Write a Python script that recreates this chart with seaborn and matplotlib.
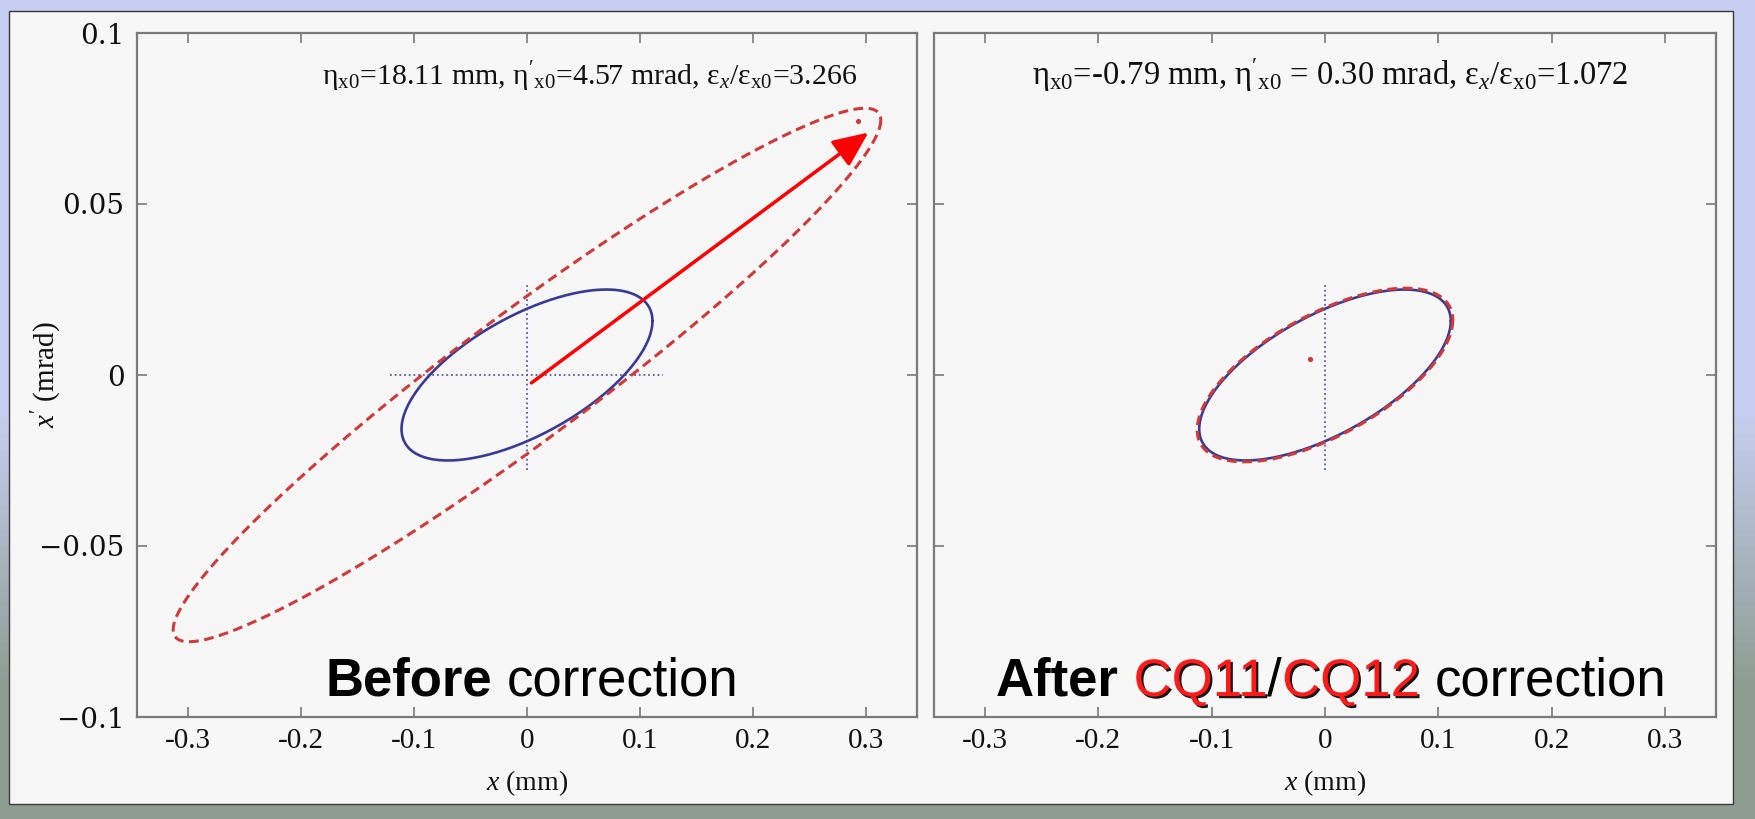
import matplotlib
matplotlib.use("Agg")
import numpy as np
import pandas as pd
import seaborn as sns
import matplotlib.pyplot as plt
from matplotlib.patches import Rectangle
import matplotlib.patheffects as pe

# ------------------------------------------------------------------ data
x_ticks = [-0.3, -0.2, -0.1, 0.0, 0.1, 0.2, 0.3]
x_tick_labels = ["-0.3", "-0.2", "-0.1", "0", "0.1", "0.2", "0.3"]
y_ticks = [-0.1, -0.05, 0.0, 0.05, 0.1]
y_tick_labels = ["\u22120.1", "\u22120.05", "0", "0.05", "0.1"]

# Twiss parameters of the phase-space ellipses (left = before, right = after)
design_eps = [0.00215, 0.00215]      # mm mrad
design_beta = [5.73, 5.73]
design_alpha = [-0.815, -0.815]
meas_eps = [0.00723, 0.00222]
meas_beta = [13.55, 5.73]
meas_alpha = [-3.225, -0.815]

# beam centroid (red dot)
centroid_x = [0.293, -0.013]
centroid_xp = [0.0743, 0.0047]

# dotted reference cross (x-extent, x'-extent); right panel has only vertical
cross_h_x = [[-0.121, 0.120], None]
cross_v_xp = [[-0.0277, 0.027], [-0.0277, 0.0265]]

# arrow in left panel
arrow_start = (0.004, -0.0023)
arrow_end = (0.302, 0.0709)

header_texts = [
    r"$\mathrm{\eta_{x0}}$=18.11 mm, $\mathrm{\eta'_{x0}}$=4.57 mrad, "
    r"$\mathrm{\varepsilon_{\mathit{x}}/\varepsilon_{x0}}$=3.266",
    r"$\mathrm{\eta_{x0}}$=-0.79 mm, $\mathrm{\eta'_{x0}}$ = 0.30 mrad, "
    r"$\mathrm{\varepsilon_{\mathit{x}}/\varepsilon_{x0}}$=1.072",
]
caption_pieces = [
    [("Before", "bold", "black", False, 0), ("correction", "normal", "black", False, 1)],
    [("After", "bold", "black", False, 0), ("CQ11", "normal", "#ff1a1a", True, 1),
     ("/", "normal", "black", False, 0), ("CQ12", "normal", "#ff1a1a", True, 0),
     ("correction", "normal", "black", False, 1)],
]

# ------------------------------------------------------------------ style
sns.set_style("ticks")
plt.rcParams["font.family"] = ["Liberation Serif", "DejaVu Serif"]
plt.rcParams["mathtext.fontset"] = "custom"
plt.rcParams["mathtext.rm"] = "Liberation Serif"
plt.rcParams["mathtext.it"] = "Liberation Serif:italic"
plt.rcParams["mathtext.bf"] = "Liberation Serif:bold"

W, H = 1755, 819
fig = plt.figure(figsize=(W / 100, H / 100), dpi=100)
fig.patch.set_facecolor("#c6cef2")

# slide-like background
bg = fig.add_axes([0, 0, 1, 1], zorder=-10)
bg.set_axis_off()
bg.set_xlim(0, 1)
bg.set_ylim(0, 1)
grad = np.array([[[0.78, 0.81, 0.95]], [[0.78, 0.81, 0.95]], [[0.56, 0.62, 0.58]]])
bg.imshow(grad, extent=[0, 1, 0, 1], aspect="auto", interpolation="bilinear")
bg.add_patch(Rectangle((9 / W, 1 - 804 / H), (1733 - 9) / W, (804 - 11) / H,
                       facecolor="#f7f7f7", edgecolor="#3a3a3a", lw=1.0))

PANEL = "#f7f7f7"
BLUE = "#3a3a96"
RED = "#d03a3a"
DOT = "#5a5aa8"
GRAY = "#7a7a7a"

axes_pos = [[137 / W, 1 - 717 / H, 780 / W, 684 / H],
            [934 / W, 1 - 717 / H, 782 / W, 684 / H]]

t = np.linspace(0, 2 * np.pi, 400)


def ellipse(eps, beta, alpha):
    x = np.sqrt(eps * beta) * np.cos(t)
    xp = -np.sqrt(eps / beta) * (alpha * np.cos(t) + np.sin(t))
    return pd.DataFrame({"x": x, "xp": xp})


axes = []
for i in range(2):
    ax = fig.add_axes(axes_pos[i])
    ax.set_facecolor(PANEL)
    axes.append(ax)

    # dotted cross
    if cross_h_x[i] is not None:
        sns.lineplot(x=cross_h_x[i], y=[0, 0], ax=ax, color=DOT, lw=1.3, sort=False)
        ax.lines[-1].set_dashes((1.0, 1.6))
    sns.lineplot(x=[0, 0], y=cross_v_xp[i], ax=ax, color=DOT, lw=1.3, sort=False,
                 estimator=None)
    ax.lines[-1].set_dashes((1.0, 1.6))

    # design (blue) ellipse
    d = ellipse(design_eps[i], design_beta[i], design_alpha[i])
    sns.lineplot(data=d, x="x", y="xp", ax=ax, color=BLUE, lw=1.9, sort=False,
                 estimator=None)
    # measured (red dashed) ellipse
    m = ellipse(meas_eps[i], meas_beta[i], meas_alpha[i])
    sns.lineplot(data=m, x="x", y="xp", ax=ax, color=RED, lw=2.2, sort=False,
                 estimator=None)
    ax.lines[-1].set_dashes((3.2, 1.8))

    # centroid
    sns.scatterplot(x=[centroid_x[i]], y=[centroid_xp[i]], ax=ax, color=RED,
                    s=14, linewidth=0, zorder=5)

    ax.set_xlim(-0.345, 0.345)
    ax.set_ylim(-0.1, 0.1)
    ax.set_xticks(x_ticks, labels=x_tick_labels, fontsize=21,
                  fontfamily="Liberation Serif")
    if i == 0:
        ax.set_yticks(y_ticks, labels=y_tick_labels, fontsize=20,
                      fontfamily="DejaVu Serif")
    else:
        ax.set_yticks(y_ticks, labels=[""] * len(y_ticks))
    ax.tick_params(direction="in", length=7, width=1.2, color=GRAY, top=True,
                   right=True, labelcolor="#111111")
    ax.tick_params(axis="x", pad=8)
    ax.tick_params(axis="y", pad=9)
    for s in ax.spines.values():
        s.set_color(GRAY)
        s.set_linewidth(1.6)
    ax.set_xlabel("$x$ (mm)", fontsize=20, color="#111111")
    ax.xaxis.set_label_coords(0.5, -0.075)
    ax.set_ylabel("")
    ax.grid(False)

axes[0].set_ylabel("$x'$ (mrad)", fontsize=21, color="#111111")
axes[0].yaxis.set_label_coords(-0.093, 0.5)

# arrow
axes[0].annotate("", xy=arrow_end, xytext=arrow_start,
                 arrowprops=dict(arrowstyle="-|>,head_length=0.9,head_width=0.4",
                                 color="#ff0000", lw=2.5, mutation_scale=24,
                                 shrinkA=0, shrinkB=0), zorder=6)

# header annotations
header_cx = [590, 1330]
header_size = [21.5, 23.5]
for i in range(2):
    fig.text(header_cx[i] / W, 1 - 85 / H, header_texts[i], fontsize=header_size[i],
             ha="center", va="baseline", color="#111111",
             fontfamily="Liberation Serif")

# captions with mixed styles
renderer = fig.canvas.get_renderer()
CAP_SIZE = 38


def measure(s, weight):
    tt = fig.text(0, 0, s, fontsize=CAP_SIZE, fontfamily="Liberation Sans",
                  fontweight=weight)
    w = tt.get_window_extent(renderer).width
    tt.remove()
    return w


space_w = measure("n n", "normal") - measure("nn", "normal")
caption_cx = [532, 1331]
caption_base = 696
for i in range(2):
    items = []
    total = 0.0
    for (s, weight, color, shadow, sp) in caption_pieces[i]:
        kw = {}
        if shadow:
            kw["path_effects"] = [pe.withSimplePatchShadow(offset=(1.6, -1.6),
                                                           shadow_rgbFace="black",
                                                           alpha=0.9)]
        tt = fig.text(0, 1 - caption_base / H, s, fontsize=CAP_SIZE,
                      fontfamily="Liberation Sans", fontweight=weight,
                      color=color, ha="left", va="baseline", **kw)
        w = tt.get_window_extent(renderer).width
        items.append((tt, w, sp * space_w))
        total += w + sp * space_w
    x = caption_cx[i] - total / 2
    for tt, w, sp in items:
        x += sp
        tt.set_x(x / W)
        x += w

fig.savefig("out.png", dpi=100, facecolor=fig.get_facecolor())
